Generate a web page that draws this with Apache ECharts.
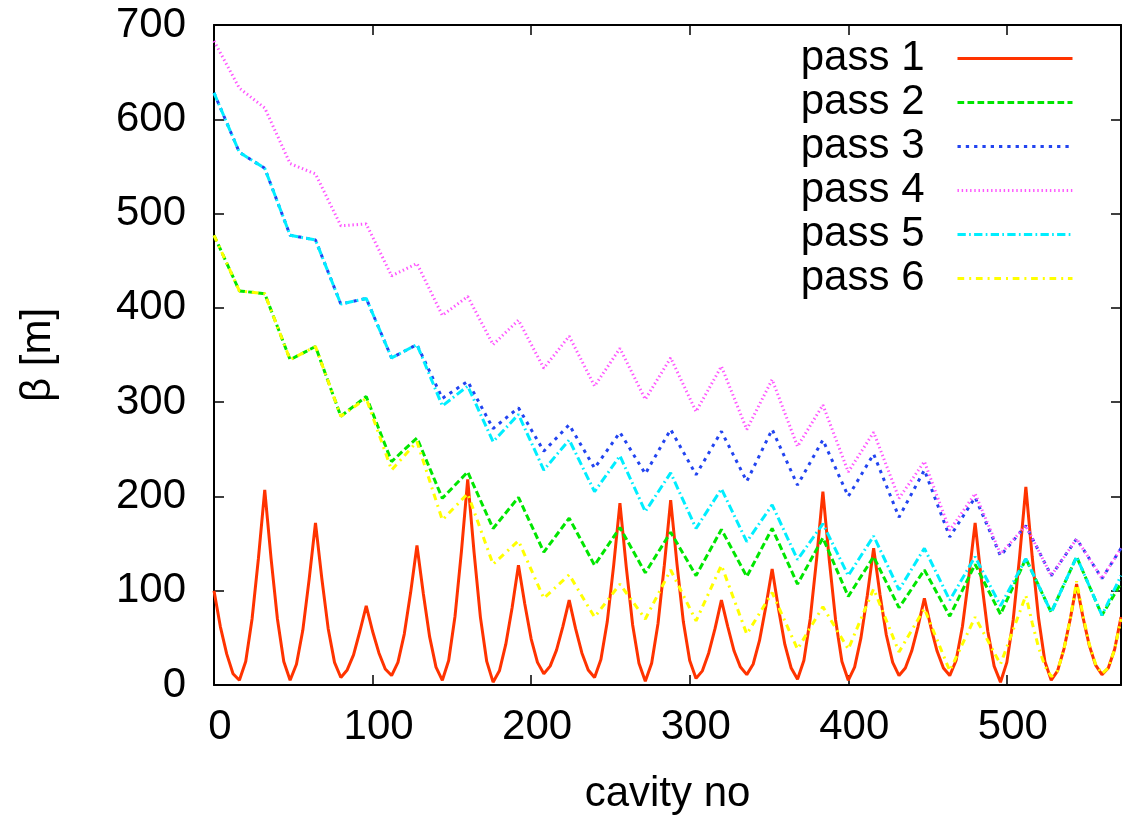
<!DOCTYPE html>
<html>
<head>
<meta charset="utf-8">
<script src="https://cdn.jsdelivr.net/npm/echarts@6/dist/echarts.min.js"></script>
<style>
html,body{margin:0;padding:0;background:#fff;}
#chart{width:1122px;height:820px;}
</style>
</head>
<body>
<div id="chart"></div>
<script>
// ---- data ----
const xTickValues = [0, 100, 200, 300, 400, 500];
const yTickValues = [0, 100, 200, 300, 400, 500, 600, 700];
const seriesNames = ['pass 1', 'pass 2', 'pass 3', 'pass 4', 'pass 5', 'pass 6'];

const pass1Cavities = [
  0, 4, 8, 12, 16, 20, 24, 28,
  32, 36, 40, 44, 48, 52, 56, 60,
  64, 68, 72, 76, 80, 84, 88, 92,
  96, 100, 104, 108, 112, 116, 120, 124,
  128, 132, 136, 140, 144, 148, 152, 156,
  160, 164, 168, 172, 176, 180, 184, 188,
  192, 196, 200, 204, 208, 212, 216, 220,
  224, 228, 232, 236, 240, 244, 248, 252,
  256, 260, 264, 268, 272, 276, 280, 284,
  288, 292, 296, 300, 304, 308, 312, 316,
  320, 324, 328, 332, 336, 340, 344, 348,
  352, 356, 360, 364, 368, 372, 376, 380,
  384, 388, 392, 396, 400, 404, 408, 412,
  416, 420, 424, 428, 432, 436, 440, 444,
  448, 452, 456, 460, 464, 468, 472, 476,
  480, 484, 488, 492, 496, 500, 504, 508,
  512, 516, 520, 524, 528, 532, 536, 540,
  544, 548, 552, 556, 560, 564, 568, 572
];
const pass1Beta = [
  100, 62, 33, 12, 5, 25, 70, 134,
  207, 134, 70, 25, 5, 22, 58, 112,
  172, 113, 60, 24, 8, 16, 32, 57,
  84, 57, 34, 17, 10, 24, 54, 98,
  148, 97, 51, 19, 5, 26, 73, 141,
  218, 141, 72, 25, 3, 15, 43, 82,
  127, 86, 49, 24, 12, 20, 37, 62,
  90, 60, 34, 16, 8, 27, 67, 126,
  193, 125, 64, 23, 4, 23, 65, 127,
  196, 128, 67, 26, 7, 15, 34, 60,
  90, 62, 36, 19, 11, 22, 47, 83,
  123, 81, 43, 18, 6, 26, 70, 133,
  205, 133, 69, 25, 5, 19, 50, 95,
  145, 96, 53, 24, 10, 18, 36, 62,
  92, 62, 36, 18, 10, 26, 62, 114,
  172, 111, 57, 20, 3, 24, 69, 135,
  210, 136, 71, 25, 5, 15, 38, 70,
  107, 72, 42, 21, 11, 18, 38, 72
];

const vertexCavities = [
  0, 16, 32, 48, 64, 80, 96, 112, 128, 144, 160, 176, 192, 208, 224, 240,
  256, 272, 288, 304, 320, 336, 352, 368, 384, 400, 416, 432, 448, 464, 480,
  496, 512, 528, 544, 560, 572
];
const pass2Beta = [
  477, 418, 415, 345, 359, 285, 306, 237, 262, 198, 226, 166, 199, 141, 177, 127,
  167, 119, 162, 116, 165, 115, 166, 107, 156, 94, 136, 82, 122, 73, 128,
  75, 134, 77, 136, 74, 108
];
const pass3Beta = [
  628, 565, 548, 477, 472, 404, 410, 347, 361, 304, 322, 272, 294, 248, 276, 230,
  268, 224, 271, 223, 269, 216, 271, 212, 260, 200, 245, 178, 228, 157, 199,
  137, 169, 116, 155, 113, 145
];
const pass4Beta = [
  683, 633, 612, 553, 542, 487, 489, 434, 447, 392, 412, 361, 387, 336, 370, 317,
  357, 303, 347, 290, 338, 271, 324, 253, 297, 226, 268, 198, 237, 164, 203,
  139, 169, 116, 155, 113, 145
];
const pass5Beta = [
  628, 565, 548, 477, 472, 404, 410, 347, 361, 296, 317, 258, 287, 228, 260, 205,
  243, 184, 225, 166, 208, 152, 191, 133, 171, 116, 158, 101, 145, 90, 136,
  84, 134, 77, 136, 74, 116
];
const pass6Cavities = [
  0, 16, 32, 48, 64, 80, 96, 112, 128, 144, 160, 176, 192, 208, 224, 240,
  256, 272, 288, 304, 320, 336, 352, 368, 384, 400, 416, 432, 448, 464, 480,
  496, 512, 516, 520, 524, 528, 532, 536, 540, 544, 548, 552, 556, 560, 564, 568, 572
];
const pass6Beta = [
  477, 418, 415, 345, 359, 285, 304, 228, 258, 175, 203, 128, 153, 92, 117, 72,
  107, 70, 122, 68, 127, 54, 98, 38, 83, 38, 102, 35, 81, 15, 72,
  22, 95, 66, 40, 20, 9, 15, 38, 70, 110, 74, 43, 22, 12, 18, 38, 70
];

// ---- chart ----
const FONT = "'Liberation Sans', Arial, Helvetica, sans-serif";
function pairs(xs, ys) { return xs.map((x, i) => [x, ys[i]]); }

const styles = [
  { color: '#ff3300', type: 'solid' },
  { color: '#00e600', type: [6.7, 3.3] },
  { color: '#2244f0', type: [3.3, 5] },
  { color: '#ff55ff', type: [1.4, 2.8] },
  { color: '#00eeff', type: [8.3, 3.3, 1.7, 3.3] },
  { color: '#ffff00', type: [6.7, 5, 2, 4.7] }
];
const dataSets = [
  pairs(pass1Cavities, pass1Beta),
  pairs(vertexCavities, pass2Beta),
  pairs(vertexCavities, pass3Beta),
  pairs(vertexCavities, pass4Beta),
  pairs(vertexCavities, pass5Beta),
  pairs(pass6Cavities, pass6Beta)
];

const axisLineStyle = { color: '#000', width: 2 };
const tickStyle = { color: '#000', width: 1.5 };

const chart = echarts.init(document.getElementById('chart'), null, { renderer: 'canvas' });
chart.setOption({
  animation: false,
  backgroundColor: '#fff',
  grid: { left: 214, right: 1, top: 25, bottom: 132, containLabel: false },
  xAxis: [
    {
      type: 'value', min: 0, max: 572, position: 'bottom',
      axisLine: { show: true, onZero: false, lineStyle: axisLineStyle },
      axisTick: { show: true, inside: true, length: 10, lineStyle: tickStyle, customValues: xTickValues },
      axisLabel: { customValues: xTickValues, fontSize: 42, color: '#000', fontFamily: FONT, margin: 21, padding: [0, 0, 0, 12] },
      splitLine: { show: false },
      name: 'cavity no', nameLocation: 'middle', nameGap: 88,
      nameTextStyle: { fontSize: 42, color: '#000', fontFamily: FONT }
    },
    {
      type: 'value', min: 0, max: 572, position: 'top',
      axisLine: { show: true, onZero: false, lineStyle: axisLineStyle },
      axisTick: { show: true, inside: true, length: 10, lineStyle: tickStyle, customValues: xTickValues },
      axisLabel: { show: false },
      splitLine: { show: false }
    }
  ],
  yAxis: [
    {
      type: 'value', min: 0, max: 700, interval: 100, position: 'left',
      axisLine: { show: true, onZero: false, lineStyle: axisLineStyle },
      axisTick: { show: true, inside: true, length: 10, lineStyle: tickStyle },
      axisLabel: { customValues: yTickValues, fontSize: 42, color: '#000', fontFamily: FONT, margin: 28 },
      splitLine: { show: false },
      name: 'β [m]', nameLocation: 'middle', nameRotate: 90, nameGap: 155,
      nameTextStyle: { fontSize: 42, color: '#000', fontFamily: FONT }
    },
    {
      type: 'value', min: 0, max: 700, interval: 100, position: 'right',
      axisLine: { show: true, onZero: false, lineStyle: axisLineStyle },
      axisTick: { show: true, inside: true, length: 10, lineStyle: tickStyle },
      axisLabel: { show: false },
      splitLine: { show: false }
    }
  ],
  legend: {
    show: true,
    orient: 'vertical',
    align: 'right',
    right: 48,
    top: 37,
    padding: 0,
    itemWidth: 115,
    itemHeight: 14,
    itemGap: 1,
    selectedMode: false,
    data: seriesNames,
    itemStyle: { opacity: 0 },
    lineStyle: { width: 3 },
    textStyle: { fontSize: 42, color: '#000', fontFamily: FONT, lineHeight: 43, padding: [0, 28, 0, 0] }
  },
  series: seriesNames.map((name, i) => ({
    name: name,
    type: 'line',
    xAxisIndex: 0,
    yAxisIndex: 0,
    data: dataSets[i],
    symbol: 'none',
    showSymbol: false,
    smooth: false,
    clip: true,
    lineStyle: { color: styles[i].color, width: 3, type: styles[i].type },
    itemStyle: { color: styles[i].color },
    emphasis: { disabled: true },
    z: 2 + i
  }))
});
</script>
</body>
</html>
